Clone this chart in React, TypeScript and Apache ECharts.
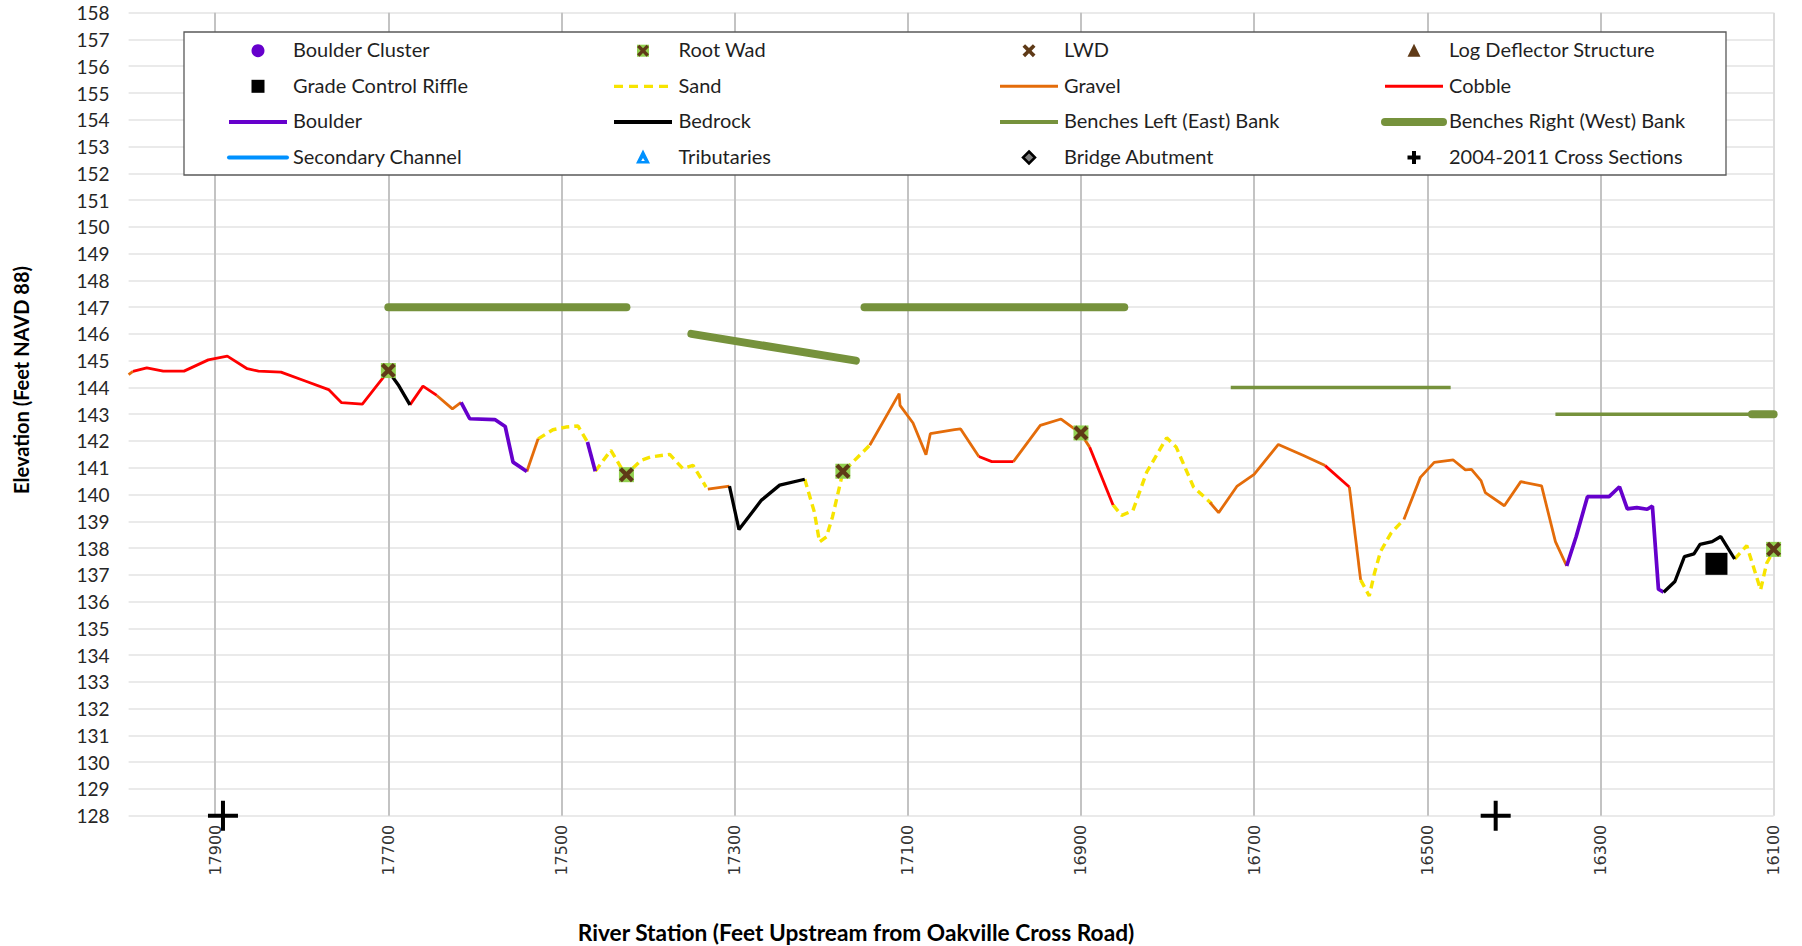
import React, { useEffect, useRef } from "react";
import * as echarts from "echarts";

// ---------- DATA ----------
// River stations (feet) and elevations (feet NAVD 88), one array per bed-material segment.
const cobbleSegments: number[][][] = [
  [[17995, 144.6], [17979, 144.73], [17960, 144.61], [17936, 144.61], [17908, 145.03], [17886, 145.17], [17863, 144.7], [17850, 144.61], [17824, 144.57], [17796, 144.24], [17769, 143.92], [17754, 143.43], [17730, 143.38], [17711, 144.16], [17700, 144.61]],
  [[17675, 143.35], [17660, 144.05], [17644, 143.7]],
  [[17018, 141.42], [17003, 141.23], [16978, 141.23]],
  [[16890, 141.77], [16863, 139.61]],
  [[16618, 141.08], [16590, 140.28]],
];
const gravelSegments: number[][][] = [
  [[18000, 144.48], [17995, 144.6]],
  [[17644, 143.7], [17626, 143.2], [17616, 143.44]],
  [[17540, 140.86], [17527, 142.08]],
  [[17331, 140.2], [17306, 140.31]],
  [[17144, 141.84], [17110, 143.77], [17109, 143.33], [17094, 142.67], [17079, 141.49], [17074, 142.27], [17046, 142.42], [17039, 142.45], [17018, 141.42]],
  [[16978, 141.23], [16947, 142.58], [16923, 142.82], [16900, 142.27], [16890, 141.77]],
  [[16751, 139.7], [16741, 139.32], [16720, 140.3], [16700, 140.75], [16672, 141.87], [16643, 141.46], [16618, 141.08]],
  [[16590, 140.28], [16577, 136.81]],
  [[16527, 139.07], [16508, 140.64], [16492, 141.2], [16470, 141.29], [16456, 140.92], [16449, 140.94], [16438, 140.52], [16433, 140.07], [16411, 139.58], [16392, 140.48], [16368, 140.32], [16352, 138.24], [16339, 137.33]],
];
const sandSegments: number[][][] = [
  [[17527, 142.08], [17510, 142.42], [17495, 142.52], [17481, 142.56], [17470, 141.96]],
  [[17461, 140.87], [17443, 141.65], [17426, 140.72], [17408, 141.28], [17397, 141.4], [17375, 141.5], [17360, 140.97], [17348, 141.09], [17333, 140.28]],
  [[17219, 140.57], [17208, 139.35], [17202, 138.23], [17194, 138.42], [17187, 139.16], [17175, 140.84], [17144, 141.84]],
  [[16863, 139.61], [16853, 139.22], [16840, 139.4], [16824, 140.84], [16801, 142.12], [16790, 141.77], [16770, 140.28], [16749, 139.65]],
  [[16577, 136.81], [16567, 136.21], [16561, 137.06], [16554, 137.87], [16542, 138.55], [16527, 139.07]],
  [[16145, 137.59], [16131, 138.09], [16115, 136.44], [16108, 137.43], [16100, 137.91]],
];
const boulderSegments: number[][][] = [
  [[17616, 143.44], [17606, 142.83], [17577, 142.8], [17565, 142.54], [17556, 141.21], [17540, 140.86]],
  [[17470, 141.96], [17461, 140.87]],
  [[16339, 137.33], [16328, 138.43], [16315, 139.92], [16290, 139.92], [16278, 140.29], [16269, 139.46], [16258, 139.51], [16246, 139.45], [16240, 139.57], [16233, 136.46], [16227, 136.35]],
];
const bedrockSegments: number[][][] = [
  [[17700, 144.61], [17688, 144.07], [17675, 143.35]],
  [[17306, 140.31], [17295, 138.69], [17269, 139.79], [17248, 140.35], [17219, 140.57]],
  [[16227, 136.35], [16214, 136.75], [16203, 137.68], [16192, 137.78], [16185, 138.14], [16171, 138.24], [16161, 138.43], [16145, 137.59]],
];
const benchesLeftSegments: number[][][] = [
  [[16727, 144], [16473, 144]],
  [[16352, 143], [16100, 143]],
];
const benchesRightSegments: number[][][] = [
  [[17700, 147], [17425, 147]],
  [[17350, 146], [17160, 145]],
  [[17150, 147], [16850, 147]],
  [[16125, 143], [16100, 143]],
];
const rootWads: number[][] = [[17700, 144.63], [17425, 140.74], [17175, 140.87], [16900, 142.3], [16100, 137.95]];
const gradeControlRiffles: number[][] = [[16166, 137.41]];
const crossSections: number[][] = [[17891, 128], [16421, 128]];

const legendNames: string[][] = [
  ["Boulder Cluster", "Root Wad", "LWD", "Log Deflector Structure"],
  ["Grade Control Riffle", "Sand", "Gravel", "Cobble"],
  ["Boulder", "Bedrock", "Benches Left (East) Bank", "Benches Right (West) Bank"],
  ["Secondary Channel", "Tributaries", "Bridge Abutment", "2004-2011 Cross Sections"],
];

// ---------- STYLE ----------
const C = {
  red: "#ff0000",
  orange: "#e46c0a",
  sand: "#f7e400",
  purple: "#6600cc",
  black: "#000000",
  bench: "#76923c",
  green: "#92d050",
  brown: "#5f3a17",
  blue: "#0091ff",
};
const X_PATH = "path://M2,0 L5,3 L8,0 L10,2 L7,5 L10,8 L8,10 L5,7 L2,10 L0,8 L3,5 L0,2 Z";
const PLUS_PATH = "path://M13,0 H17 V13 H30 V17 H17 V30 H13 V17 H0 V13 H13 Z";
const FONT = "Lato, 'Open Sans', sans-serif";

function lineSeries(name: string, segs: number[][][], lineStyle: any, z = 3) {
  return segs.map((seg) => ({
    type: "line",
    name,
    data: seg,
    showSymbol: false,
    symbol: "none",
    lineStyle,
    z,
    silent: true,
  }));
}

function xPoly(cx: number, cy: number, s: number) {
  const pts = [[2, 0], [5, 3], [8, 0], [10, 2], [7, 5], [10, 8], [8, 10], [5, 7], [2, 10], [0, 8], [3, 5], [0, 2]];
  return pts.map(([a, b]) => [cx + ((a - 5) * s) / 10, cy + ((b - 5) * s) / 10]);
}
function plusPoly(cx: number, cy: number, s: number, t: number) {
  const h = s / 2, k = t / 2;
  return [[-k, -h], [k, -h], [k, -k], [h, -k], [h, k], [k, k], [k, h], [-k, h], [-k, k], [-h, k], [-h, -k], [-k, -k]].map(([a, b]) => [cx + a, cy + b]);
}

function buildLegend() {
  const colIcon = [258, 643, 1029, 1414];
  const colText = [293, 678.5, 1064, 1449];
  const rowY = [50.7, 86.3, 121.9, 157.5];
  const children: any[] = [
    { type: "rect", shape: { x: 184, y: 32, width: 1542, height: 143 }, style: { fill: "#fff", stroke: "#595959", lineWidth: 1.3 } },
  ];
  const lineIcon = (cx: number, cy: number, color: string, w: number, extra: any = {}) => ({
    type: "line",
    shape: { x1: cx - 29, y1: cy, x2: cx + 29, y2: cy },
    style: { stroke: color, lineWidth: w, ...extra },
  });
  legendNames.forEach((row, r) => {
    row.forEach((name, c) => {
      const cx = colIcon[c], cy = rowY[r];
      children.push({
        type: "text",
        x: colText[c],
        y: cy - 1.5,
        style: { text: name, font: `20px ${FONT}`, fill: "#1f1f1f", verticalAlign: "middle", align: "left" },
      });
      let icon: any[] = [];
      switch (name) {
        case "Boulder Cluster":
          icon = [{ type: "circle", shape: { cx, cy, r: 6.5 }, style: { fill: C.purple } }];
          break;
        case "Root Wad":
          icon = [
            { type: "rect", shape: { x: cx - 6, y: cy - 6, width: 12, height: 12 }, style: { fill: C.green } },
            { type: "polygon", shape: { points: xPoly(cx, cy, 12) }, style: { fill: C.brown } },
          ];
          break;
        case "LWD":
          icon = [{ type: "polygon", shape: { points: xPoly(cx, cy, 13) }, style: { fill: C.brown } }];
          break;
        case "Log Deflector Structure":
          icon = [{ type: "polygon", shape: { points: [[cx, cy - 7], [cx + 6.5, cy + 6], [cx - 6.5, cy + 6]] }, style: { fill: C.brown } }];
          break;
        case "Grade Control Riffle":
          icon = [{ type: "rect", shape: { x: cx - 6.5, y: cy - 6.5, width: 13, height: 13 }, style: { fill: C.black } }];
          break;
        case "Sand":
          icon = [lineIcon(cx, cy, C.sand, 3.3, { lineDash: [9, 6] })];
          break;
        case "Gravel":
          icon = [lineIcon(cx, cy, C.orange, 3)];
          break;
        case "Cobble":
          icon = [lineIcon(cx, cy, C.red, 3)];
          break;
        case "Boulder":
          icon = [lineIcon(cx, cy, C.purple, 4)];
          break;
        case "Bedrock":
          icon = [lineIcon(cx, cy, C.black, 4)];
          break;
        case "Benches Left (East) Bank":
          icon = [lineIcon(cx, cy, C.bench, 4)];
          break;
        case "Benches Right (West) Bank":
          icon = [lineIcon(cx, cy, C.bench, 8, { lineCap: "round" })];
          break;
        case "Secondary Channel":
          icon = [lineIcon(cx, cy, C.blue, 4, { lineCap: "round" })];
          break;
        case "Tributaries":
          icon = [
            { type: "polygon", shape: { points: [[cx, cy - 8], [cx + 7, cy + 6], [cx - 7, cy + 6]] }, style: { fill: C.blue } },
            { type: "polygon", shape: { points: [[cx, cy + 0.5], [cx + 1.8, cy + 3.5], [cx - 1.8, cy + 3.5]] }, style: { fill: "#fff" } },
          ];
          break;
        case "Bridge Abutment":
          icon = [{ type: "polygon", shape: { points: [[cx, cy - 6], [cx + 6, cy], [cx, cy + 6], [cx - 6, cy]] }, style: { fill: "#7f7f7f", stroke: "#000", lineWidth: 2.5 } }];
          break;
        case "2004-2011 Cross Sections":
          icon = [{ type: "polygon", shape: { points: plusPoly(cx, cy, 13, 4) }, style: { fill: C.black } }];
          break;
      }
      children.push(...icon);
    });
  });
  return children.map((ch, i) => ({ ...ch, z: 100 + (i === 0 ? 0 : 1) }));
}

export default function App() {
  const ref = useRef<HTMLDivElement>(null);
  useEffect(() => {
    if (!ref.current) return;
    const chart = echarts.init(ref.current, undefined, { renderer: "svg" });
    const xSplitColors: string[] = [];
    for (let i = 0; i < 20; i++) xSplitColors.push(i === 0 ? "#dcdcdc" : i % 2 === 1 ? "rgba(0,0,0,0)" : "#c3c3c3");

    const series: any[] = [
      ...lineSeries("Benches Right (West) Bank", benchesRightSegments, { color: C.bench, width: 8, cap: "round" }, 2),
      ...lineSeries("Benches Left (East) Bank", benchesLeftSegments, { color: C.bench, width: 3.6, cap: "butt" }, 2),
      ...lineSeries("Sand", sandSegments, { color: C.sand, width: 3.4, type: [8, 5] }, 3),
      ...lineSeries("Gravel", gravelSegments, { color: C.orange, width: 2.8 }, 3),
      ...lineSeries("Cobble", cobbleSegments, { color: C.red, width: 2.8 }, 3),
      ...lineSeries("Boulder", boulderSegments, { color: C.purple, width: 3.7 }, 3),
      ...lineSeries("Bedrock", bedrockSegments, { color: C.black, width: 3.3 }, 3),
      {
        type: "scatter", name: "Root Wad", data: rootWads, symbol: "rect", symbolSize: 15,
        itemStyle: { color: C.green, opacity: 1 }, z: 5, silent: true, clip: false,
      },
      {
        type: "scatter", name: "Root Wad X", data: rootWads, symbol: X_PATH, symbolSize: 15,
        itemStyle: { color: C.brown, opacity: 1 }, z: 6, silent: true, clip: false,
      },
      {
        type: "scatter", name: "Grade Control Riffle", data: gradeControlRiffles, symbol: "rect", symbolSize: 22,
        itemStyle: { color: C.black, opacity: 1 }, z: 5, silent: true,
      },
      {
        type: "scatter", name: "2004-2011 Cross Sections", data: crossSections, symbol: PLUS_PATH, symbolSize: 30,
        itemStyle: { color: C.black, opacity: 1 }, z: 5, silent: true, clip: false,
      },
    ];

    chart.setOption({
      animation: false,
      backgroundColor: "#ffffff",
      grid: { left: 128.6, right: 28.4, top: 12.7, bottom: 130.3, containLabel: false },
      xAxis: {
        type: "value",
        inverse: true,
        min: 16100,
        max: 18000,
        interval: 100,
        axisLine: { show: false },
        axisTick: { show: false },
        axisLabel: {
          formatter: (v: number) => (Math.round(v) % 200 === 100 ? String(Math.round(v)) : ""),
          rotate: 90,
          margin: 9,
          fontSize: 16,
          fontFamily: "DejaVu Sans",
          color: "#333",
        },
        splitLine: { show: true, lineStyle: { color: xSplitColors, width: 2 } },
      },
      yAxis: {
        type: "value",
        min: 128,
        max: 158,
        interval: 1,
        axisLine: { show: false },
        axisTick: { show: false },
        axisLabel: { margin: 19, fontSize: 19, fontFamily: FONT, color: "#262626" },
        splitLine: { show: true, lineStyle: { color: "#e3e3e3", width: 1.5 } },
      },
      series,
      graphic: [
        ...buildLegend(),
        {
          type: "text", x: 21, y: 380, rotation: Math.PI / 2,
          style: { text: "Elevation (Feet NAVD 88)", font: `bold 20px ${FONT}`, fill: "#000", align: "center", verticalAlign: "middle" },
        },
        {
          type: "text", x: 856, y: 932,
          style: { text: "River Station (Feet Upstream from Oakville Cross Road)", font: `bold 22.7px ${FONT}`, fill: "#000", align: "center", verticalAlign: "middle" },
        },
      ],
    });
    return () => chart.dispose();
  }, []);
  return <div ref={ref} style={{ position: "fixed", left: 0, top: 0, width: 1802, height: 946, background: "#fff" }} />;
}
